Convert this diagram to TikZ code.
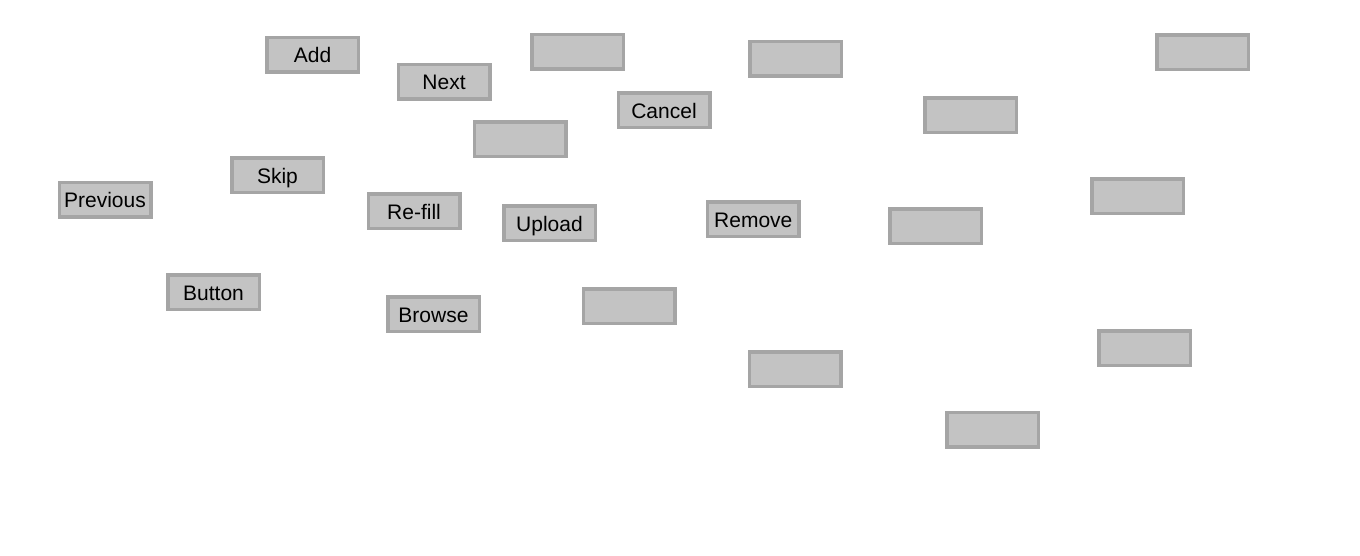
\documentclass[tikz,border=0pt]{standalone}
\usepackage{fontspec}
\setmainfont{Liberation Sans}
\definecolor{btnfill}{RGB}{195,195,195}
\definecolor{btnline}{RGB}{165,165,165}
\tikzset{
  btn/.style={draw=btnline, fill=btnfill, line width=3.5pt, rectangle,
    minimum width=91.5pt, minimum height=34.5pt, inner sep=0pt,
    font=\fontsize{21}{25}\selectfont, text height=16.5pt, text depth=0pt}
}
\begin{document}
\begin{tikzpicture}[x=1pt,y=-1pt]
\useasboundingbox (0,0) rectangle (1360,555);
\node[btn] (add) at (312.5,54.5) {Add};
\node[btn] (next) at (444,81.7) {Next};
\node[btn] (b1) at (577.5,51.7) {};
\node[btn] (cancel) at (664,110) {Cancel};
\node[btn] (b2) at (520,139) {};
\node[btn] (refill) at (414,211) {Re-fill};
\node[btn] (upload) at (549.5,223) {Upload};
\node[btn] (skip) at (277.5,175) {Skip};
\node[btn] (previous) at (105,199.5) {Previous};
\node[btn] (button) at (213.5,292) {Button};
\node[btn] (browse) at (433.5,314) {Browse};
\node[btn] (bf) at (629,306) {};
\node[btn] (ba) at (795.5,58.7) {};
\node[btn] (bb) at (970.5,115) {};
\node[btn] (remove) at (753.3,219) {Remove};
\node[btn] (bc) at (935.5,226) {};
\node[btn] (bd) at (1202.5,52) {};
\node[btn] (be) at (1137.5,196) {};
\node[btn] (bg) at (795.3,369) {};
\node[btn] (bh) at (1144.5,348) {};
\node[btn] (bi) at (992.5,429.7) {};
\end{tikzpicture}
\end{document}
